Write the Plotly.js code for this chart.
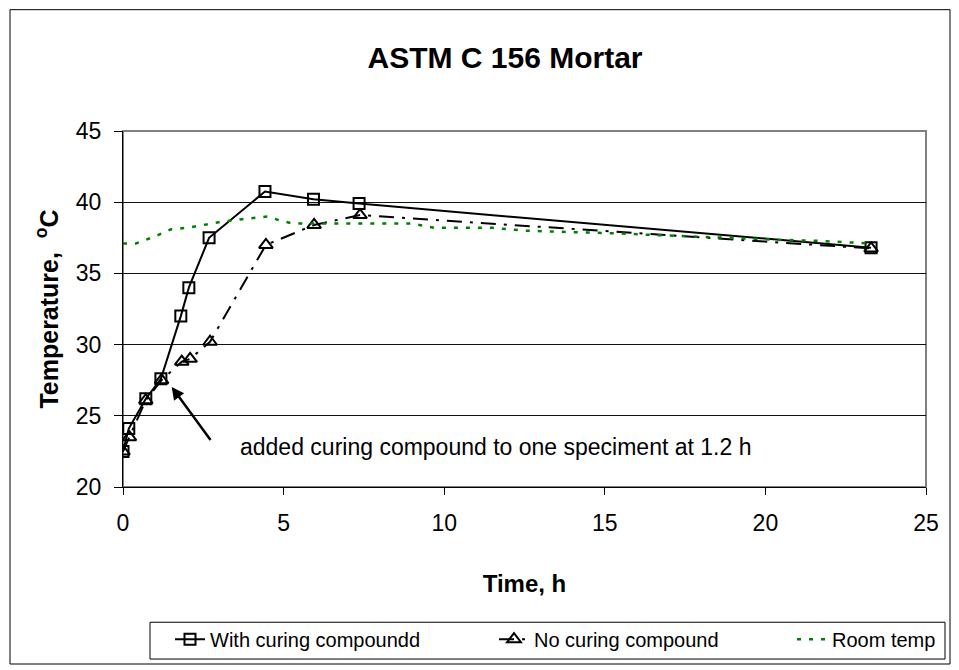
<!DOCTYPE html>
<html>
<head>
<meta charset="utf-8">
<script src="https://cdn.plot.ly/plotly-3.0.1.min.js"></script>
<style>
html,body{margin:0;padding:0;background:#fff;}
#chart{width:959px;height:670px;}
</style>
</head>
<body>
<div id="chart"></div>
<script>
// Data
const withTime = [0, 0.18, 0.71, 1.18, 1.80, 2.05, 2.68, 4.42, 5.93, 7.35, 23.29];
const withTemp = [22.5, 24.1, 26.2, 27.6, 32.0, 34.0, 37.5, 40.75, 40.2, 39.9, 36.8];

const noTime = [0, 0.20, 0.71, 1.20, 1.83, 2.09, 2.71, 4.45, 5.95, 7.38, 23.29];
const noTemp = [22.5, 23.5, 26.1, 27.5, 28.8, 29.0, 30.2, 37.0, 38.4, 39.1, 36.75];

const roomTime = [0, 0.4, 1.0, 1.5, 2.0, 2.5, 3.0, 3.7, 4.5, 4.9, 5.3, 6.0, 7.0, 8.0, 9.0, 9.7, 10.5, 11.5, 12.5, 13.5, 14.5, 15.5, 16.5, 17.5, 18.5, 19.5, 20.5, 21.5, 22.5, 23.3];
const roomTemp = [37.1, 37.1, 37.6, 38.1, 38.2, 38.4, 38.6, 38.8, 39.0, 38.7, 38.5, 38.5, 38.5, 38.5, 38.5, 38.2, 38.2, 38.2, 38.0, 37.95, 37.9, 37.8, 37.7, 37.6, 37.5, 37.4, 37.35, 37.3, 37.2, 37.1];

const xTicks = [0, 5, 10, 15, 20, 25];
const yTicks = [20, 25, 30, 35, 40, 45];

const seriesNames = ["With curing compoundd", "No curing compound", "Room temp"];
const noteText = "added curing compound to one speciment at 1.2 h";

const FONT = "Liberation Sans, Arial, sans-serif";

const traces = [
  {
    x: withTime, y: withTemp, name: seriesNames[0], type: "scatter", mode: "lines+markers",
    legend: "legend",
    line: {color: "#000", width: 2},
    marker: {symbol: "square-open", size: 11, color: "#000", line: {width: 2, color: "#000"}}
  },
  {
    x: noTime, y: noTemp, name: seriesNames[1], type: "scatter", mode: "lines+markers",
    legend: "legend2",
    line: {color: "#000", width: 2, dash: "15px,8px,3px,8px"},
    marker: {symbol: "triangle-up-open", size: 12, color: "#000", line: {width: 2, color: "#000"}}
  },
  {
    x: roomTime, y: roomTemp, name: seriesNames[2], type: "scatter", mode: "lines",
    legend: "legend3",
    line: {color: "#008000", width: 2.5, dash: "4px,8px"}
  }
];

// paper coordinates helpers (plot area: x 123..926, y 131..489)
const PW = 803, PH = 358;
function px(x){ return (x - 123) / PW; }
function py(y){ return (489 - y) / PH; }

function legendAt(xPix){
  return {
    orientation: "h", x: px(xPix), xanchor: "left", y: py(642), yanchor: "middle",
    borderwidth: 0, bgcolor: "rgba(0,0,0,0)",
    font: {family: FONT, size: 20, color: "#000"},
    itemwidth: 30, tracegroupgap: 0
  };
}

const layout = {
  width: 959, height: 670,
  margin: {l: 123, r: 33, t: 131, b: 181},
  paper_bgcolor: "#fff", plot_bgcolor: "#fff",
  font: {family: FONT, color: "#000", size: 23},
  title: {text: "<b>ASTM C 156 Mortar</b>", font: {family: FONT, size: 30, color: "#000"},
          x: 505 / 959, xref: "container", xanchor: "center",
          y: 1 - 57 / 670, yref: "container", yanchor: "middle"},
  showlegend: true,
  legend: legendAt(170),
  legend2: legendAt(494),
  legend3: legendAt(792),
  xaxis: {
    range: [0, 25], tickvals: xTicks, ticktext: xTicks.map(String),
    showgrid: false, zeroline: false, automargin: false,
    showline: true, linecolor: "#000", linewidth: 1,
    ticks: "outside", ticklen: 7, tickcolor: "#000",
    ticklabelstandoff: 8,
    tickfont: {family: FONT, size: 23},
    title: {text: "<b>Time, h</b>", font: {family: FONT, size: 24}, standoff: 40}
  },
  yaxis: {
    range: [20, 45], tickvals: yTicks, ticktext: yTicks.map(String),
    showgrid: true, gridcolor: "#111", gridwidth: 1, zeroline: false, automargin: false,
    showline: true, linecolor: "#000", linewidth: 1,
    ticks: "outside", ticklen: 8, tickcolor: "#000",
    ticklabelstandoff: 8,
    tickfont: {family: FONT, size: 23},
    title: {text: "<b>Temperature,  <sup>o</sup>C</b>", font: {family: FONT, size: 25}, standoff: 10}
  },
  shapes: [
    {type: "rect", xref: "paper", yref: "paper", x0: 0, x1: 1, y0: 0, y1: 1,
     line: {color: "#808080", width: 2}, layer: "below"},
    {type: "rect", xref: "paper", yref: "paper", x0: px(10), x1: px(950), y0: py(667), y1: py(9),
     line: {color: "#000", width: 1}, layer: "below"},
    {type: "rect", xref: "paper", yref: "paper", x0: px(150), x1: px(945), y0: py(662), y1: py(625),
     line: {color: "#000", width: 1}, fillcolor: "rgba(0,0,0,0)", layer: "below"}
  ],
  annotations: [
    {x: 1.516, y: 27.03, ax: 2.76, ay: 23.19, xref: "x", yref: "y", axref: "x", ayref: "y",
     text: "", showarrow: true, arrowhead: 2, arrowsize: 1, arrowwidth: 2.5, arrowcolor: "#000"},
    {x: 3.58, y: 22.8, xref: "x", yref: "y", xanchor: "left", yanchor: "middle",
     text: noteText, showarrow: false, font: {family: FONT, size: 23, color: "#000"}}
  ]
};

Plotly.newPlot("chart", traces, layout, {displayModeBar: false, staticPlot: true});
</script>
</body>
</html>
